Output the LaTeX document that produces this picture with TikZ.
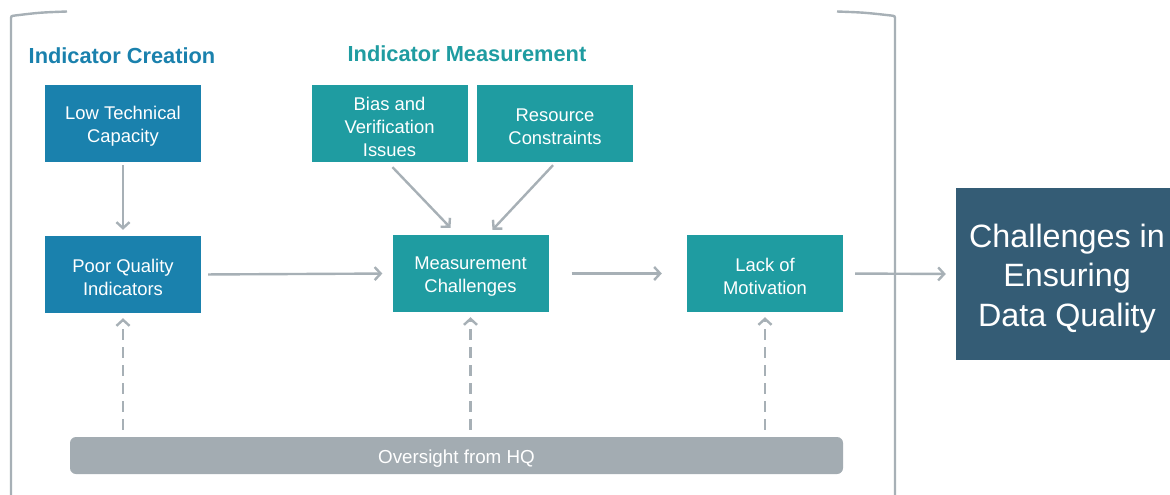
\documentclass[tikz,border=0pt]{standalone}
\usepackage{fontspec}
\setmainfont{Liberation Sans}
\usetikzlibrary{arrows.meta,calc}
\definecolor{cblue}{HTML}{1A81AD}
\definecolor{cteal}{HTML}{1F9CA1}
\definecolor{cdark}{HTML}{345C75}
\definecolor{cgray}{HTML}{A3ACB2}
\definecolor{cline}{HTML}{A7B0B6}
\newcommand{\upA}{\rule{0pt}{19.5pt}}
\newcommand{\upB}{\rule{0pt}{32.5pt}}
\newcommand{\upC}{\rule{0pt}{20.5pt}}
\begin{document}
\begin{tikzpicture}[x=1pt,y=-1pt,
  box/.style={draw=none, minimum width=156pt, minimum height=77pt, inner sep=0pt, align=center, text=white, font=\fontsize{18.4}{23}\selectfont},
  bluebox/.style={box, fill=cblue},
  tealbox/.style={box, fill=cteal},
  conn/.style={draw=cline, line width=2.4pt, -{Straight Barb[length=6pt,width=13pt]}},
  dconn/.style={conn, dash pattern=on 11pt off 7pt},
  bracket/.style={draw=cline, line width=2.4pt},
  title/.style={font=\fontsize{21.8}{24}\selectfont\bfseries, inner sep=0pt}]
\useasboundingbox (0,0) rectangle (1170,495);
\clip (0,0) rectangle (1170,495);
\fill[white] (0,0) rectangle (1170,495);

% bracket
\draw[bracket] (11,500) -- (11,20) .. controls (11,16) .. (15,15.5) .. controls (40,12.5) .. (67,11.5);
\draw[bracket] (837,11.5) .. controls (864,12.5) .. (891,15.5) .. controls (895,16) .. (895,20) -- (895,500);

% titles
\node[title, text=cblue] (t1) at (122,56) {Indicator Creation};
\node[title, text=cteal] (t2) at (467,54) {Indicator Measurement};

% boxes
\node[bluebox] (ltc) at (123,123.5) {\upA Low Technical\\Capacity};
\node[bluebox] (pqi) at (123,274.5) {\upA Poor Quality\\Indicators};
\node[tealbox] (bias) at (389.5,123.5) {\upA Bias and\\Verification\\Issues};
\node[tealbox] (res) at (555,123.5) {\upA Resource\\Constraints};
\node[tealbox] (meas) at (470.5,273.5) {\upA Measurement\\Challenges};
\node[tealbox] (lack) at (765,273.5) {\upA Lack of\\Motivation};
\node[box, fill=cdark, minimum width=222pt, minimum height=172pt, font=\fontsize{32.3}{39.5}\selectfont] (chal) at (1067,274) {\upB Challenges in\\Ensuring\\Data Quality};
\node[fill=cgray, rounded corners=6pt, minimum width=773pt, minimum height=37pt, inner sep=0pt, text=white, font=\fontsize{18.8}{20}\selectfont] (bar) at (456.5,455.5) {\upC Oversight from HQ};

% connectors
\draw[conn, shorten <=3pt, shorten >=6pt] (ltc.south) -- (pqi.north);
\draw[conn, shorten <=7pt, shorten >=10pt] (pqi.east) -- (meas.west);
\draw[conn] ($(bias.south)+(3,5)$) -- ($(meas.north)+(-20,-7)$);
\draw[conn] ($(res.south)+(-2,3)$) -- ($(meas.north)+(22,-5)$);
\draw[conn, shorten <=23pt, shorten >=25pt] (meas.east) -- (lack.west);
\draw[conn, shorten <=12pt, shorten >=10pt] (lack.east) -- (chal.west);

% dashed oversight arrows
\draw[dconn, shorten <=7pt, shorten >=5pt] (pqi.south |- bar.north) -- (pqi.south);
\draw[dconn, shorten <=7pt, shorten >=5pt] (meas.south |- bar.north) -- (meas.south);
\draw[dconn, shorten <=7pt, shorten >=5pt] (lack.south |- bar.north) -- (lack.south);
\end{tikzpicture}
\end{document}
